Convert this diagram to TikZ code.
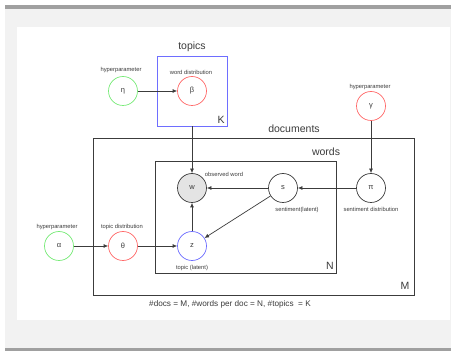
\documentclass[tikz,border=0pt]{standalone}
\usepackage{fontspec}
\setmainfont{Liberation Sans}
\usetikzlibrary{arrows.meta}
\definecolor{hpgreen}{RGB}{120,235,120}
\definecolor{distred}{RGB}{255,105,105}
\definecolor{topblue}{RGB}{110,110,255}
\definecolor{inkgrey}{RGB}{60,60,60}
\definecolor{wordfill}{RGB}{228,228,228}
\definecolor{pagegrey}{RGB}{242,242,242}
\definecolor{bargrey}{RGB}{160,160,160}
\begin{document}
\begin{tikzpicture}[x=1pt,y=-1pt,>={Latex[length=4.5pt,width=4pt]}]
    \tikzstyle{var}=[circle,draw,line width=0.7pt,minimum size=29pt,inner sep=0pt,
                     font=\fontsize{7.5}{8}\selectfont,text=inkgrey]
    \tikzstyle{plate}=[rectangle,draw=inkgrey,line width=0.7pt,inner sep=0pt]
    \tikzstyle{tiny}=[font=\fontsize{5.8}{6}\selectfont,text=inkgrey,inner sep=0pt]
    \tikzstyle{big}=[font=\fontsize{10.5}{11}\selectfont,text=inkgrey,inner sep=0pt]
    \tikzstyle{link}=[->,draw=inkgrey,line width=0.7pt]
    \useasboundingbox (0,0) rectangle (452,352);
    % page
    \fill[pagegrey] (5,5) rectangle (451,351);
    \fill[bargrey] (5,5) rectangle (451,9);
    \fill[bargrey] (5,348) rectangle (451,351);
    \fill[white] (17,27) rectangle (450,320);
    % plates
    \draw node[plate,draw=topblue,minimum width=70pt,minimum height=70pt](topics)at(192,91){}
          node[plate,minimum width=321pt,minimum height=157pt](docs)at(253.5,216.5){}
          node[plate,minimum width=181pt,minimum height=112pt](words)at(245.5,217){};
    \draw node[big](topicslbl)at(192,47){topics}
          node[big](klbl)at(221,120){K}
          node[big](docslbl)at(294,129){documents}
          node[big](wordslbl)at(326,152){words}
          node[big](nlbl)at(330,266){N}
          node[big](mlbl)at(405,286){M};
    % variables
    \draw node[var,draw=hpgreen](eta)at(123,91){η}
          node[var,draw=distred](beta)at(192,91){β}
          node[var,draw=distred](gamma)at(371,106){γ}
          node[var,draw=inkgrey,fill=wordfill](w)at(192,188){w}
          node[var,draw=inkgrey](s)at(283,188){s}
          node[var,draw=inkgrey](pi)at(371,188){π}
          node[var,draw=hpgreen](alpha)at(59,246){α}
          node[var,draw=distred](theta)at(123,246){θ}
          node[var,draw=topblue](z)at(192,246){z};
    \draw node[tiny](etalbl)at(121,70){hyperparameter}
          node[tiny](betalbl)at(191,72){word distribution}
          node[tiny](gammalbl)at(370,87){hyperparameter}
          node[tiny](wlbl)at(224,174){observed word}
          node[tiny](slbl)at(297,210){sentiment(latent)}
          node[tiny](pilbl)at(371,209){sentiment distribution}
          node[tiny](alphalbl)at(57,227){hyperparameter}
          node[tiny](thetalbl)at(122,227){topic distribution}
          node[tiny](zlbl)at(192,268){topic (latent)};
    \draw node[font=\fontsize{8.2}{9}\selectfont,text=inkgrey,inner sep=0pt](caption)at(230,304)
          {\#docs = M, \#words per doc = N, \#topics~ = K};
    % edges
    \draw[link](eta)--(beta);
    \draw[link](topics)--(w);
    \draw[link](gamma)--(pi);
    \draw[link](pi)--(s);
    \draw[link](s)--(w);
    \draw[link](s)--(z);
    \draw[link](z)--(w);
    \draw[link](alpha)--(theta);
    \draw[link](theta)--(z);
\end{tikzpicture}
\end{document}
